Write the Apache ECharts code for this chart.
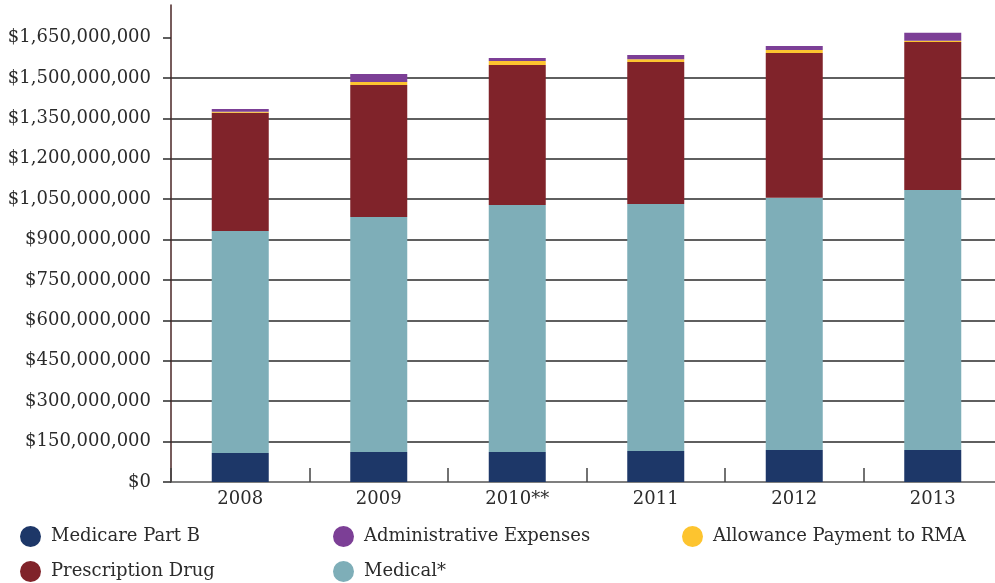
<!DOCTYPE html>
<html>
<head>
<meta charset="utf-8">
<script src="https://cdn.jsdelivr.net/npm/echarts@6/dist/echarts.min.js"></script>
<style>
  html, body { margin: 0; padding: 0; background: #ffffff; }
  #chart { width: 995px; height: 583px; }
</style>
</head>
<body>
<div id="chart"></div>
<script>
// Plan expenditure by year, in dollars
const years = ['2008', '2009', '2010**', '2011', '2012', '2013'];
const medicarePartB   = [108e6, 111e6, 111e6, 115e6, 119e6, 119e6];
const medical         = [824e6, 873e6, 917e6, 917e6, 936e6, 965e6];
const prescriptionDrug = [439e6, 490e6, 520e6, 527e6, 538e6, 550e6];
const allowanceRMA    = [4e6, 11e6, 15e6, 11e6, 11e6, 4e6];
const adminExpenses   = [10e6, 30e6, 11e6, 15e6, 15e6, 30e6];
const yTicks = [0, 150e6, 300e6, 450e6, 600e6, 750e6, 900e6, 1050e6, 1200e6, 1350e6, 1500e6, 1650e6];

const FONT = 'DejaVu Serif';
const TEXT = '#2b2b2b';

const fmtMoney = v => '$' + Math.round(v).toLocaleString('en-US');

const chart = echarts.init(document.getElementById('chart'), null, { renderer: 'canvas' });

function barSeries(name, data, color) {
  return {
    name, type: 'bar', stack: 'total', data,
    barWidth: 57,
    itemStyle: { color },
    emphasis: { disabled: true }
  };
}

// one legend entry per box so the 3-column, 2-row key lays out exactly
function legendItem(name, left, top) {
  return {
    left, top,
    data: [name],
    icon: 'circle',
    itemWidth: 21,
    itemHeight: 21,
    selectedMode: false,
    padding: 0,
    textStyle: { fontFamily: FONT, fontSize: 18, color: TEXT, padding: [0, 0, 0, 5] }
  };
}

chart.setOption({
  animation: false,
  backgroundColor: '#ffffff',
  grid: { left: 171, width: 831, top: 5, bottom: 101, containLabel: false, outerBoundsMode: 'none' },
  legend: [
    legendItem('Medicare Part B', 20, 526),
    legendItem('Prescription Drug', 20, 561),
    legendItem('Administrative Expenses', 333, 526),
    legendItem('Medical*', 333, 561),
    legendItem('Allowance Payment to RMA', 682, 526)
  ],
  xAxis: {
    type: 'category',
    data: years,
    boundaryGap: true,
    axisLine: { lineStyle: { color: '#555555', width: 1.5 } },
    axisTick: { show: true, inside: true, length: 14, lineStyle: { color: '#444444', width: 1.5 } },
    axisLabel: { fontFamily: FONT, fontSize: 18, color: TEXT, margin: 8 },
    splitLine: { show: false }
  },
  yAxis: {
    type: 'value',
    min: 0,
    max: 1771e6,
    interval: 150e6,
    axisLine: { show: true, lineStyle: { color: '#4a2626', width: 1.5 } },
    axisTick: { show: true, length: 8, customValues: yTicks, lineStyle: { color: '#2a2a2a', width: 1.5 } },
    axisLabel: { fontFamily: FONT, fontSize: 18, color: TEXT, margin: 20, customValues: yTicks, formatter: fmtMoney },
    splitLine: { show: true, showMinLine: false, showMaxLine: false, lineStyle: { color: '#2a2a2a', width: 1.5 } }
  },
  series: [
    barSeries('Medicare Part B', medicarePartB, '#1d3768'),
    barSeries('Medical*', medical, '#7eaeb8'),
    barSeries('Prescription Drug', prescriptionDrug, '#80232a'),
    barSeries('Allowance Payment to RMA', allowanceRMA, '#fdc42f'),
    barSeries('Administrative Expenses', adminExpenses, '#7c3f96')
  ]
});
</script>
</body>
</html>
